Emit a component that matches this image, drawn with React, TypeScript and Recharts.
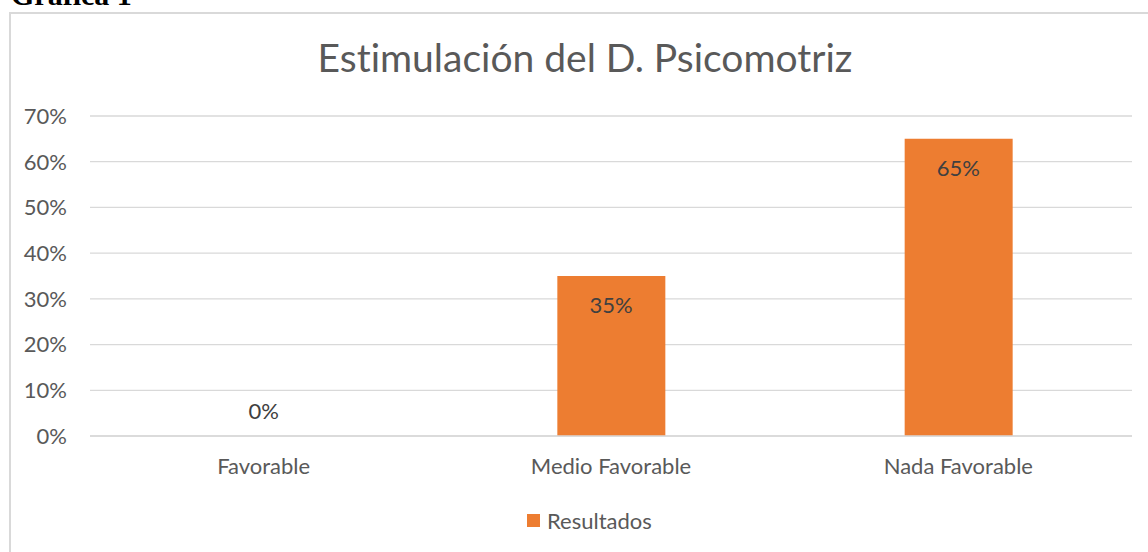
import React from "react";
import { ComposedChart, Bar, Line, XAxis, YAxis, CartesianGrid, Legend, LabelList } from "recharts";

const categories = ["Favorable", "Medio Favorable", "Nada Favorable"];
const resultados = [0, 0.35, 0.65];
const yTicks = [0, 0.1, 0.2, 0.3, 0.4, 0.5, 0.6, 0.7];
const seriesName = "Resultados";
const chartTitle = "Estimulación del D. Psicomotriz";
const captionText = "Gráfica 1";

const data = categories.map((c, i) => ({ name: c, Resultados: resultados[i] }));

const FONT = "Lato, 'Open Sans', sans-serif";
const TEXT = "#595959";
const ORANGE = "#ED7D31";
const GRID = "#D9D9D9";
const FS = 22;

const pct = (v: number) => `${Math.round(v * 100)}%`;

const XTick = (props: any) => {
  const { x, y, payload } = props;
  return (
    <text x={x} y={y} dy="0.355em" textAnchor="middle" fill={TEXT} fontSize={FS} fontFamily={FONT}>
      {payload.value}
    </text>
  );
};

const YTick = (props: any) => {
  const { x, y, payload } = props;
  return (
    <text x={x} y={y} dy="0.355em" textAnchor="end" fill={TEXT} fontSize={FS} fontFamily={FONT}>
      {pct(payload.value)}
    </text>
  );
};

const PointLabel = (props: any) => {
  const { x, y, value } = props;
  const v = Number(value);
  const cy = v > 0.05 ? Number(y) + 29 : Number(y) - 25;
  return (
    <text x={Number(x)} y={cy} dy="0.355em" textAnchor="middle" fill="#404040" fontSize={FS} fontFamily={FONT}>
      {pct(v)}
    </text>
  );
};

const LegendContent = () => (
  <div style={{ height: 50, display: "flex", justifyContent: "flex-start", paddingLeft: 527, boxSizing: "border-box", paddingTop: 8 }}>
    <div style={{ display: "flex", alignItems: "center", height: 20 }}>
      <div style={{ width: 13, height: 13, background: ORANGE, marginRight: 7 }} />
      <span style={{ fontFamily: FONT, fontSize: FS, color: TEXT }}>{seriesName}</span>
    </div>
  </div>
);

export default function App() {
  return (
    <div style={{ position: "absolute", left: 0, top: 0, width: 1148, height: 552, overflow: "hidden", background: "#fff" }}>
      <svg style={{ position: "absolute", left: 0, top: 0 }} width={300} height={12}>
        <text x={11} y={5} fontFamily="'Liberation Serif', 'Times New Roman', serif" fontWeight="bold" fontSize={30} fill="#000">
          {captionText}
        </text>
      </svg>
      <div style={{ position: "absolute", left: 9, top: 12, width: 1200, height: 600, border: `2px solid ${GRID}`, boxSizing: "border-box" }} />
      <div style={{ position: "absolute", left: 0, top: 35, width: 1170, textAlign: "center", fontFamily: FONT, fontSize: 39, color: TEXT, lineHeight: "44px", fontVariantLigatures: "none" }}>
        {chartTitle}
      </div>
      <div style={{ position: "absolute", left: 0, top: 0 }}>
        <ComposedChart width={1148} height={552} data={data} margin={{ top: 116, right: 16, bottom: 0, left: 0 }}>
          <CartesianGrid horizontal vertical={false} stroke={GRID} strokeWidth={1.3} />
          <XAxis dataKey="name" height={66} tickSize={0} tickMargin={30} axisLine={{ stroke: GRID, strokeWidth: 1.3 }} tickLine={false} tick={<XTick />} interval={0} />
          <YAxis width={90} domain={[0, 0.7]} ticks={yTicks} tickSize={0} tickMargin={23} axisLine={false} tickLine={false} tick={<YTick />} />
          <Legend verticalAlign="bottom" content={<LegendContent />} />
          <Bar dataKey="Resultados" name={seriesName} fill={ORANGE} barSize={108} isAnimationActive={false} />
          <Line dataKey="Resultados" stroke="none" dot={false} activeDot={false} legendType="none" isAnimationActive={false}>
            <LabelList dataKey="Resultados" content={<PointLabel />} />
          </Line>
        </ComposedChart>
      </div>
    </div>
  );
}
